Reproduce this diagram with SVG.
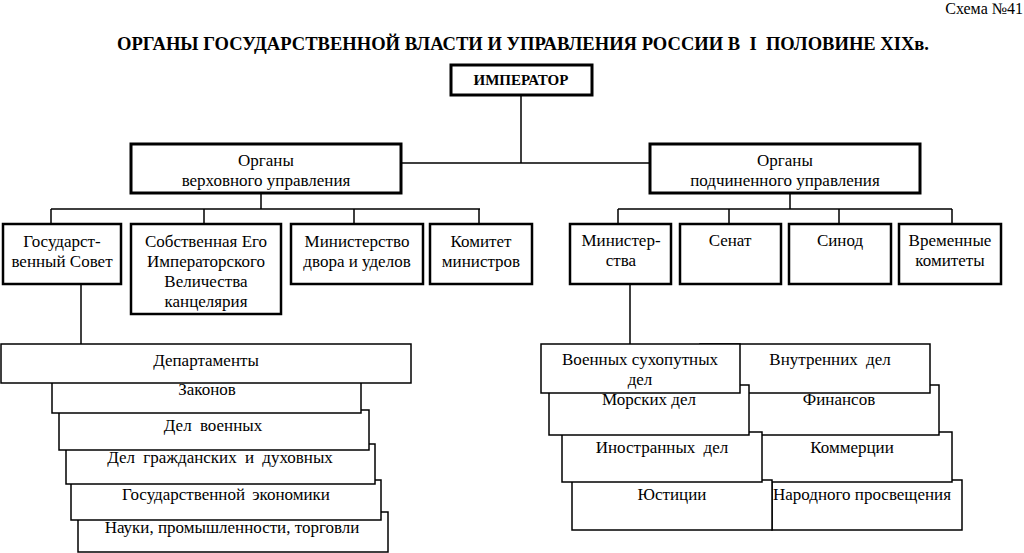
<svg xmlns="http://www.w3.org/2000/svg" width="1024" height="553" viewBox="0 0 1024 553">
<style>
  text { font-family: "Liberation Serif", "Times New Roman", serif; fill: #000; }
  .t { font-size: 17px; text-anchor: middle; }
  .title { font-size: 19px; font-weight: bold; }
  .thick { fill: #fff; stroke: #000; stroke-width: 3; }
  .mid { fill: #fff; stroke: #000; stroke-width: 2.5; }
  .thin { fill: #fff; stroke: #000; stroke-width: 1.5; }
  .conn { fill: none; stroke: #000; stroke-width: 1.5; }
</style>
<rect width="1024" height="553" fill="#fff"/>
<text x="1023" y="14" style="font-size:16px;text-anchor:end">Схема №41</text>
<text class="title" x="117" y="50" textLength="812" lengthAdjust="spacingAndGlyphs">ОРГАНЫ ГОСУДАРСТВЕННОЙ ВЛАСТИ И УПРАВЛЕНИЯ РОССИИ В &#160;I &#160;ПОЛОВИНЕ XIXв.</text>

<g id="connectors">
  <path class="conn" d="M521 95 V163 M401 163 H650"/>
  <path class="conn" d="M261 193 V209 M51 209 H480 M51 209 V224 M204 209 V224 M354 209 V224 M479 209 V224"/>
  <path class="conn" d="M790 193 V209 M618 209 H952 M618 209 V224 M729 209 V224 M839 209 V224 M952 209 V224"/>
  <path class="conn" d="M81 284 V344"/>
  <path class="conn" d="M630 284 V344"/>
</g>

<g id="emperor">
  <rect class="thick" x="451" y="65" width="141" height="30"/>
  <text x="521" y="85" style="font-size:15px;font-weight:bold;text-anchor:middle">ИМПЕРАТОР</text>
</g>
<g id="supreme">
  <rect class="thick" x="131" y="144" width="270" height="49"/>
  <text class="t" x="266" y="166">Органы</text>
  <text class="t" x="266" y="186">верховного управления</text>
</g>
<g id="subordinate">
  <rect class="thick" x="650" y="144" width="270" height="49"/>
  <text class="t" x="785" y="166">Органы</text>
  <text class="t" x="785" y="186">подчиненного управления</text>
</g>

<g id="gossovet">
  <rect class="mid" x="3" y="224" width="118" height="60"/>
  <text class="t" x="62" y="247">Государст-</text>
  <text class="t" x="62" y="267">венный Совет</text>
</g>
<g id="kantselyariya">
  <rect class="mid" x="131" y="224" width="150" height="90"/>
  <text class="t" x="206" y="247">Собственная Его</text>
  <text class="t" x="206" y="267">Императорского</text>
  <text class="t" x="206" y="287">Величества</text>
  <text class="t" x="206" y="307">канцелярия</text>
</g>
<g id="ministerstvo-dvora">
  <rect class="mid" x="291" y="224" width="132" height="60"/>
  <text class="t" x="357" y="247">Министерство</text>
  <text class="t" x="357" y="267">двора и уделов</text>
</g>
<g id="komitet">
  <rect class="mid" x="430" y="224" width="102" height="60"/>
  <text class="t" x="481" y="247">Комитет</text>
  <text class="t" x="481" y="267">министров</text>
</g>

<g id="ministerstva">
  <rect class="mid" x="570" y="224" width="101" height="60"/>
  <text class="t" x="621" y="246">Министер-</text>
  <text class="t" x="621" y="266">ства</text>
</g>
<g id="senat">
  <rect class="mid" x="680" y="224" width="101" height="60"/>
  <text class="t" x="730" y="246">Сенат</text>
</g>
<g id="sinod">
  <rect class="mid" x="789" y="224" width="102" height="60"/>
  <text class="t" x="840" y="246">Синод</text>
</g>
<g id="vremennye">
  <rect class="mid" x="899" y="224" width="102" height="60"/>
  <text class="t" x="950" y="246">Временные</text>
  <text class="t" x="950" y="266">комитеты</text>
</g>

<g id="dep-nauki">
  <rect class="thin" x="78" y="512" width="310" height="40"/>
  <text class="t" x="232" y="533">Науки, промышленности, торговли</text>
</g>
<g id="dep-ekonomiki">
  <rect class="thin" x="71" y="480" width="310" height="40"/>
  <text class="t" x="226" y="500" style="word-spacing:3px">Государственной экономики</text>
</g>
<g id="dep-grazhd">
  <rect class="thin" x="66" y="444" width="309" height="40"/>
  <text class="t" x="220" y="463" style="word-spacing:4px">Дел гражданских и духовных</text>
</g>
<g id="dep-voennyh">
  <rect class="thin" x="59" y="410" width="310" height="40"/>
  <text class="t" x="213" y="431" style="word-spacing:4px">Дел военных</text>
</g>
<g id="dep-zakonov">
  <rect class="thin" x="52" y="372" width="309" height="41"/>
  <text class="t" x="207" y="395">Законов</text>
</g>
<g id="departamenty">
  <rect class="thin" x="1" y="344" width="410" height="39"/>
  <text class="t" x="206" y="366">Департаменты</text>
</g>

<g id="m-prosv">
  <rect class="thin" x="772" y="480" width="190" height="50"/>
  <text class="t" x="862" y="500">Народного просвещения</text>
</g>
<g id="m-kommertsii">
  <rect class="thin" x="720" y="432" width="232" height="50"/>
  <text class="t" x="852" y="453">Коммерции</text>
</g>
<g id="m-finansov">
  <rect class="thin" x="710" y="385" width="229" height="50"/>
  <text class="t" x="839" y="405">Финансов</text>
</g>
<g id="m-vnutr">
  <rect class="thin" x="700" y="344" width="230" height="49"/>
  <text class="t" x="830" y="365" style="word-spacing:4px">Внутренних дел</text>
</g>
<g id="m-yustitsii">
  <rect class="thin" x="572" y="480" width="200" height="50"/>
  <text class="t" x="672" y="500">Юстиции</text>
</g>
<g id="m-inostr">
  <rect class="thin" x="562" y="432" width="200" height="50"/>
  <text class="t" x="662" y="453" style="word-spacing:4px">Иностранных дел</text>
</g>
<g id="m-morskih">
  <rect class="thin" x="549" y="385" width="200" height="50"/>
  <text class="t" x="649" y="405">Морских дел</text>
</g>
<g id="m-voennyh">
  <rect class="thin" x="541" y="344" width="199" height="49"/>
  <text class="t" x="640" y="365">Военных сухопутных</text>
  <text class="t" x="640" y="385">дел</text>
</g>
</svg>
